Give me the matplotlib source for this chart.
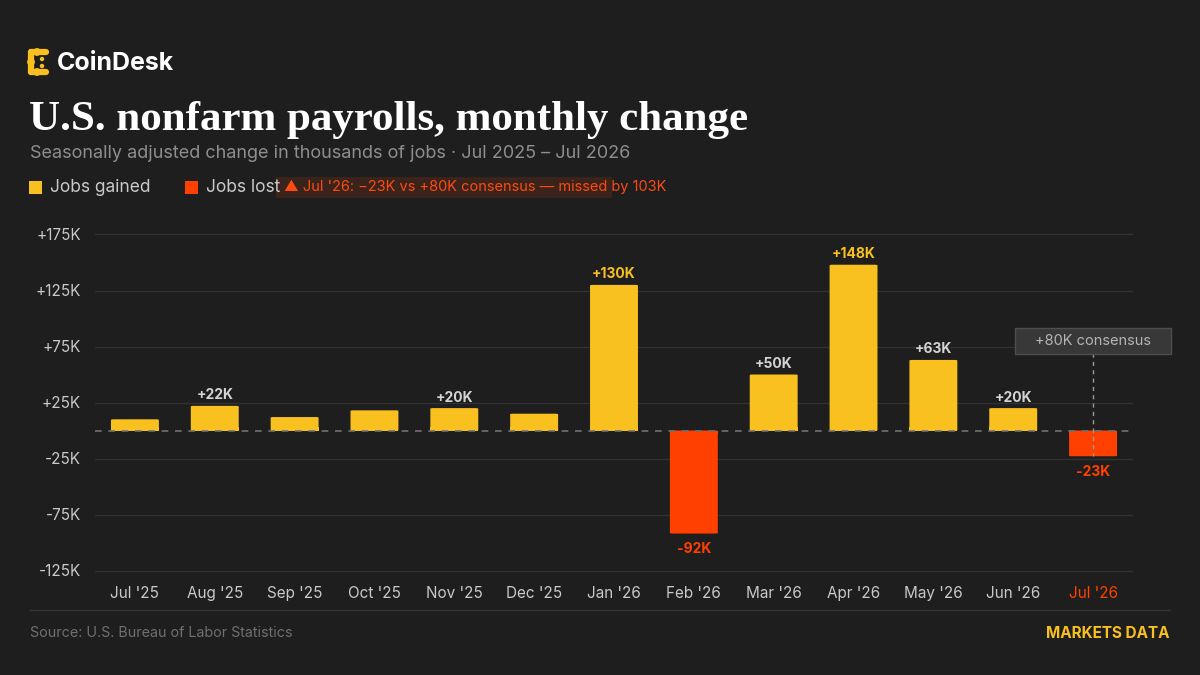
import matplotlib
matplotlib.use("Agg")
import matplotlib.pyplot as plt
from matplotlib.patches import Rectangle, FancyBboxPatch
import numpy as np

# ---- data ----
months = ["Jul '25", "Aug '25", "Sep '25", "Oct '25", "Nov '25", "Dec '25",
          "Jan '26", "Feb '26", "Mar '26", "Apr '26", "May '26", "Jun '26", "Jul '26"]
values = [10, 22, 12, 18, 20, 15, 130, -92, 50, 148, 63, 20, -23]
labels = {1: "+22K", 4: "+20K", 6: "+130K", 7: "-92K", 8: "+50K",
          9: "+148K", 10: "+63K", 11: "+20K", 12: "-23K"}
highlight_labels = [6, 9]
consensus = 80
yticks = [175, 125, 75, 25, -25, -75, -125]
ytick_labels = ["+175K", "+125K", "+75K", "+25K", "-25K", "-75K", "-125K"]

BG = "#1e1e1e"
YEL = "#f9c11f"
RED = "#ff4000"
GRID = "#323232"
TXT = "#c9c9c9"

plt.rcParams['font.family'] = ['Inter', 'DejaVu Sans']

W, H = 1200, 675
fig = plt.figure(figsize=(12, 6.75), dpi=100, facecolor=BG)

# main axes (pixel mapping: zero at y=430.5, 1.12 px per K)
y0 = 430.5
k = 1.12
ylo, yhi = -130, 180
top_px = y0 - k * yhi
bot_px = y0 - k * ylo
ax = fig.add_axes([95 / W, (H - bot_px) / H, (1133 - 95) / W, (bot_px - top_px) / H])
ax.set_facecolor(BG)
ax.set_xlim(-0.5, len(months) - 0.5)
ax.set_ylim(ylo, yhi)
for s in ax.spines.values():
    s.set_visible(False)

for t in yticks:
    ax.axhline(t, color=GRID, lw=1, zorder=0)
ax.axhline(0, color="#707070", lw=1.2, ls=(0, (4, 4)), zorder=3)

x = np.arange(len(months))
colors = [YEL if v >= 0 else RED for v in values]
for xi, v, c in zip(x, values, colors):
    bb = FancyBboxPatch((xi - 0.3, min(0, v)), 0.6, abs(v),
                        boxstyle="round,pad=0,rounding_size=0.04",
                        fc=c, ec="none", zorder=2, mutation_aspect=12)
    ax.add_patch(bb)
    if v >= 0:
        ax.add_patch(Rectangle((xi - 0.3, 0), 0.6, min(v, 3), fc=c, ec="none", zorder=2))
    else:
        ax.add_patch(Rectangle((xi - 0.3, max(v, -3)), 0.6, min(-v, 3), fc=c, ec="none", zorder=2))

for i, lab in labels.items():
    v = values[i]
    if v >= 0:
        col = YEL if i in highlight_labels else "#d4d4d4"
        ax.annotate(lab, (i, v), xytext=(0, 2.5), textcoords="offset points",
                    ha="center", va="bottom", fontsize=10, fontweight="bold", color=col)
    else:
        ax.annotate(lab, (i, v), xytext=(0, -6), textcoords="offset points",
                    ha="center", va="top", fontsize=10, fontweight="bold", color=RED)

ax.set_yticks(yticks)
ax.set_yticklabels(ytick_labels)
ax.set_xticks(x)
ax.set_xticklabels(months)
ax.tick_params(axis="both", length=0, labelsize=11, colors=TXT)
ax.tick_params(axis="y", pad=10)
ax.tick_params(axis="x", pad=7)
ax.get_xticklabels()[-1].set_color(RED)

# consensus marker
last = len(months) - 1
ax.plot([last, last], [consensus - 11, values[last]], color="#9a9a9a", lw=1,
        ls=(0, (3, 3)), zorder=4)

# overlay in pixel coordinates
ov = fig.add_axes([0, 0, 1, 1], facecolor="none")
ov.set_xlim(0, W)
ov.set_ylim(H, 0)
ov.axis("off")

# consensus box
cx = 95 + (last + 0.5) * (1133 - 95) / len(months)
cy = y0 - k * consensus
ov.add_patch(Rectangle((cx - 78, cy - 13), 156, 26, fc="#383838", ec="#4e4e4e", lw=1, zorder=5))
ov.text(cx, cy, "+80K consensus", ha="center", va="center", fontsize=10.5,
        color="#b4b4b4", zorder=6)

# logo
ov.plot([31, 31], [52, 72], color=YEL, lw=4.5, solid_capstyle="round")
ov.plot([31, 46], [52, 52], color=YEL, lw=4.5, solid_capstyle="round")
ov.plot([31, 46], [72, 72], color=YEL, lw=4.5, solid_capstyle="round")
for (px, py) in [(37, 52), (37, 72), (31, 62)]:
    ov.add_patch(plt.Circle((px, py), 3.2, color=YEL))
for (px, py) in [(42, 59), (42, 66)]:
    ov.add_patch(plt.Circle((px, py), 1.5, color=YEL))
ov.text(57, 63, "CoinDesk", fontsize=18, fontweight="bold", color="white",
        ha="left", va="center")

# title & subtitle
ov.text(29, 130, "U.S. nonfarm payrolls, monthly change", family="Liberation Serif",
        fontsize=31, fontweight="bold", color="white", ha="left", va="baseline")
ov.text(30, 153, "Seasonally adjusted change in thousands of jobs \u00b7 Jul 2025 \u2013 Jul 2026",
        fontsize=13, color="#8e8e8e", ha="left", va="center")

# legend
ov.add_patch(Rectangle((29, 181), 12.5, 12.5, fc=YEL, ec="none"))
ov.text(50, 187, "Jobs gained", fontsize=12.5, color=TXT, ha="left", va="center")
ov.add_patch(Rectangle((185, 181), 12.5, 12.5, fc=RED, ec="none"))
ov.text(206, 187, "Jobs lost", fontsize=12.5, color=TXT, ha="left", va="center")
ov.add_patch(Rectangle((276, 177), 336, 21, fc="#3a231b", ec="none"))
ov.text(284, 187, "\u25b2 Jul '26: \u221223K vs +80K consensus \u2014 missed by 103K",
        fontsize=10.5, color="#ff4a12", ha="left", va="center")

# footer
ov.plot([30, 1170], [610, 610], color="#333333", lw=1)
ov.text(30, 633, "Source: U.S. Bureau of Labor Statistics", fontsize=10.3,
        color="#707070", ha="left", va="center")
ov.text(1170, 633, "MARKETS DATA", fontsize=11, fontweight="bold", color=YEL,
        ha="right", va="center")

fig.savefig("out.png", dpi=100, facecolor=BG)
